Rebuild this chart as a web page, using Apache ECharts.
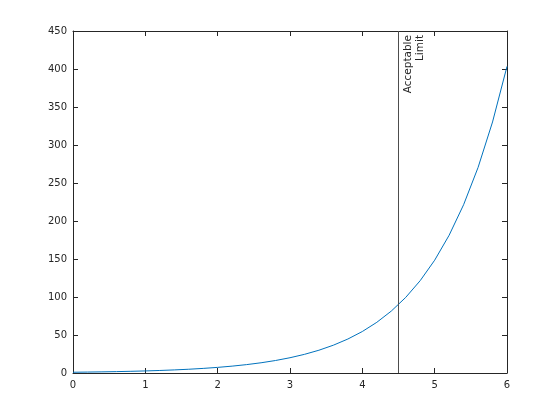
<!DOCTYPE html>
<html><head><meta charset="utf-8">
<script src="https://cdn.jsdelivr.net/npm/echarts@6/dist/echarts.min.js"></script>
<style>html,body{margin:0;padding:0;background:#fff}#c{width:560px;height:420px}</style>
</head><body><div id="c"></div>
<script>
const xValues = [0,0.2,0.4,0.6,0.8,1,1.2,1.4,1.6,1.8,2,2.2,2.4,2.6,2.8,3,3.2,3.4,3.6,3.8,4,4.2,4.4,4.6,4.8,5,5.2,5.4,5.6,5.8,6];
const yValues = [1,1.22,1.49,1.82,2.23,2.72,3.32,4.06,4.95,6.05,7.39,9.03,11.02,13.46,16.44,20.09,24.53,29.96,36.6,44.7,54.6,66.69,81.45,99.48,121.51,148.41,181.27,221.41,270.43,330.3,403.43];
const limitX = 4.5;
const limitLabel = 'Acceptable\nLimit';

const axisColor = '#262626';
const font = 'DejaVu Sans';
const baseAxis = {
  type: 'value',
  axisLine: {show: true, onZero: false, lineStyle: {color: axisColor, width: 1}},
  axisTick: {show: true, inside: true, length: 5, lineStyle: {color: axisColor}},
  splitLine: {show: false},
  axisLabel: {color: axisColor, fontFamily: font, fontSize: 10}
};
const chart = echarts.init(document.getElementById('c'), null, {renderer: 'canvas'});
chart.setOption({
  animation: false,
  backgroundColor: '#fff',
  grid: {left: 73, right: 53, top: 31, bottom: 47, containLabel: false},
  xAxis: [
    Object.assign({}, baseAxis, {min: 0, max: 6, interval: 1, position: 'bottom',
      axisLabel: Object.assign({}, baseAxis.axisLabel, {margin: 7})}),
    Object.assign({}, baseAxis, {min: 0, max: 6, interval: 1, position: 'top', axisLabel: {show: false}})
  ],
  yAxis: [
    Object.assign({}, baseAxis, {min: 0, max: 450, interval: 50, position: 'left',
      axisLabel: Object.assign({}, baseAxis.axisLabel, {margin: 6})}),
    Object.assign({}, baseAxis, {min: 0, max: 450, interval: 50, position: 'right', axisLabel: {show: false}})
  ],
  series: [{
    type: 'line',
    data: xValues.map((x, i) => [x, yValues[i]]),
    showSymbol: false,
    lineStyle: {color: '#0072BD', width: 1},
    markLine: {
      silent: true,
      symbol: 'none',
      lineStyle: {color: '#4d4d4d', width: 1, type: 'solid'},
      label: {show: true, formatter: limitLabel, position: 'insideEndBottom',
        color: axisColor, fontFamily: font, fontSize: 10.5, lineHeight: 12, distance: 4},
      data: [{xAxis: limitX}]
    }
  }]
});
</script></body></html>
